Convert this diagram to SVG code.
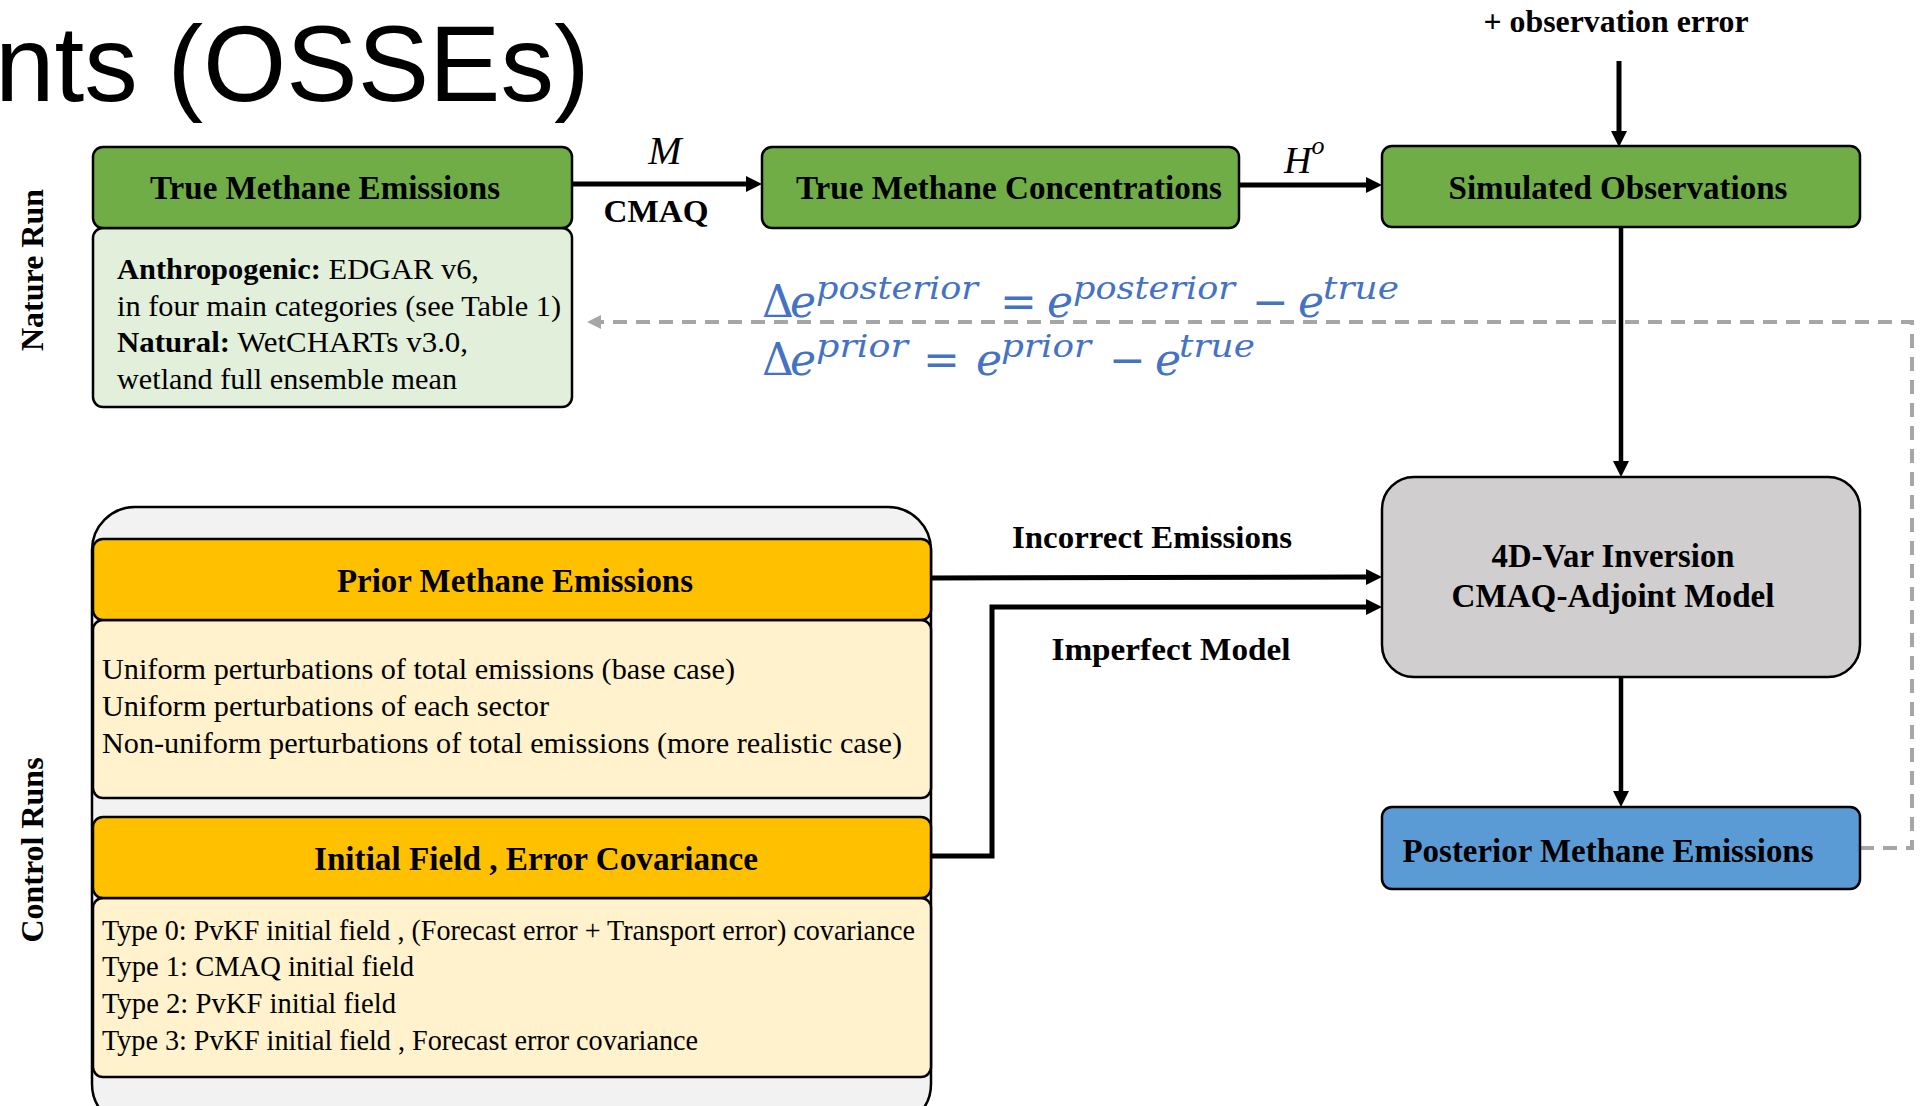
<svg xmlns="http://www.w3.org/2000/svg" width="1926" height="1106" viewBox="0 0 1926 1106">
<defs>
<style>
.box{stroke:#000;stroke-width:2.5}
.hdr{font-family:"Liberation Serif",serif;font-weight:bold;font-size:34px;text-anchor:middle;fill:#000}
.lbl{font-family:"Liberation Serif",serif;font-weight:bold;font-size:32px;fill:#000}
.body{font-family:"Liberation Serif",serif;font-size:30px;fill:#000}
.conn{fill:none;stroke:#000;stroke-width:5}
.conn4{fill:none;stroke:#000;stroke-width:4.5}
.dash{fill:none;stroke:#A6A6A6;stroke-width:4;stroke-dasharray:14 9}
.eq{font-family:"DejaVu Serif",serif;fill:#4472C4}
.it{font-style:italic}
</style>
<marker id="ah" viewBox="0 0 10 10" refX="0" refY="5" markerWidth="16" markerHeight="16" markerUnits="userSpaceOnUse" orient="auto">
<path d="M0,0 L10,5 L0,10 z" fill="#000"/>
</marker>
<marker id="ahg" viewBox="0 0 10 10" refX="0" refY="5" markerWidth="14" markerHeight="14" markerUnits="userSpaceOnUse" orient="auto">
<path d="M0,0 L10,5 L0,10 z" fill="#A6A6A6"/>
</marker>
</defs>
<rect x="0" y="0" width="1926" height="1106" fill="#fff"/>

<text x="-5" y="101" font-family="Liberation Sans, Arial, sans-serif" font-size="107" fill="#000">nts (OSSEs)</text>

<text class="lbl" x="1616" y="32" text-anchor="middle" textLength="265" lengthAdjust="spacingAndGlyphs">+ observation error</text>

<g id="side-labels">
<text class="lbl" transform="translate(43,270) rotate(-90)" text-anchor="middle" font-size="33">Nature Run</text>
<text class="lbl" transform="translate(43,850) rotate(-90)" text-anchor="middle" font-size="33">Control Runs</text>
</g>

<g id="connectors">
<path class="dash" d="M1860,848 H1912 V322 H601" marker-end="url(#ahg)"/>
<line class="conn" x1="572" y1="184" x2="746" y2="184" marker-end="url(#ah)"/>
<line class="conn" x1="1239" y1="185" x2="1366" y2="185" marker-end="url(#ah)"/>
<line class="conn" x1="1619" y1="61" x2="1619" y2="131" marker-end="url(#ah)"/>
<line class="conn4" x1="1621" y1="227" x2="1621" y2="461" marker-end="url(#ah)"/>
<line class="conn4" x1="1621" y1="677" x2="1621" y2="791" marker-end="url(#ah)"/>
<line class="conn" x1="931" y1="578" x2="1366" y2="577" marker-end="url(#ah)"/>
<path class="conn" d="M931,856 H992 V607 H1366" marker-end="url(#ah)"/>
</g>

<g id="edge-labels">
<text x="665" y="164" font-family="Liberation Serif, serif" font-style="italic" font-size="40" text-anchor="middle">M</text>
<text class="lbl" x="656" y="222" text-anchor="middle" textLength="105" lengthAdjust="spacingAndGlyphs">CMAQ</text>
<text x="1284" y="173" font-family="Liberation Serif, serif" font-style="italic" font-size="38">H<tspan font-size="26" dy="-19">o</tspan></text>
<text class="lbl" x="1152" y="548" text-anchor="middle" textLength="280" lengthAdjust="spacingAndGlyphs">Incorrect Emissions</text>
<text class="lbl" x="1171" y="660" text-anchor="middle" textLength="239" lengthAdjust="spacingAndGlyphs">Imperfect Model</text>
</g>

<g id="equations" class="eq">
<text font-size="44">
<tspan x="762" y="317">Δ</tspan><tspan class="it" x="790" y="317">e</tspan>
<tspan class="it" x="816" y="299" font-size="32" textLength="162" lengthAdjust="spacingAndGlyphs">posterior</tspan>
<tspan x="1000" y="317">=</tspan>
<tspan class="it" x="1047" y="317">e</tspan>
<tspan class="it" x="1073" y="299" font-size="32" textLength="162" lengthAdjust="spacingAndGlyphs">posterior</tspan>
<tspan x="1252" y="317">−</tspan>
<tspan class="it" x="1298" y="317">e</tspan>
<tspan class="it" x="1323" y="299" font-size="32" textLength="76" lengthAdjust="spacingAndGlyphs">true</tspan>
</text>
<text font-size="44">
<tspan x="762" y="375">Δ</tspan><tspan class="it" x="790" y="375">e</tspan>
<tspan class="it" x="816" y="357" font-size="32" textLength="92" lengthAdjust="spacingAndGlyphs">prior</tspan>
<tspan x="923" y="375">=</tspan>
<tspan class="it" x="976" y="375">e</tspan>
<tspan class="it" x="1001" y="357" font-size="32" textLength="90" lengthAdjust="spacingAndGlyphs">prior</tspan>
<tspan x="1109" y="375">−</tspan>
<tspan class="it" x="1155" y="375">e</tspan>
<tspan class="it" x="1179" y="357" font-size="32" textLength="76" lengthAdjust="spacingAndGlyphs">true</tspan>
</text>
</g>

<g id="node-true-emissions">
<rect class="box" x="93" y="228" width="479" height="179" rx="10" fill="#E2EFDA"/>
<rect class="box" x="93" y="147" width="479" height="81" rx="10" fill="#70AD47"/>
<text class="hdr" x="325" y="199" textLength="350" lengthAdjust="spacingAndGlyphs">True Methane Emissions</text>
<text class="body" x="117" y="279" textLength="362" lengthAdjust="spacingAndGlyphs"><tspan font-weight="bold">Anthropogenic:</tspan> EDGAR v6,</text>
<text class="body" x="117" y="316" textLength="444" lengthAdjust="spacingAndGlyphs">in four main categories (see Table 1)</text>
<text class="body" x="117" y="352" textLength="351" lengthAdjust="spacingAndGlyphs"><tspan font-weight="bold">Natural:</tspan> WetCHARTs v3.0,</text>
<text class="body" x="117" y="389" textLength="340" lengthAdjust="spacingAndGlyphs">wetland full ensemble mean</text>
</g>

<g id="node-true-concentrations">
<rect class="box" x="762" y="147" width="477" height="81" rx="10" fill="#70AD47"/>
<text class="hdr" x="1009" y="199" textLength="426" lengthAdjust="spacingAndGlyphs">True Methane Concentrations</text>
</g>

<g id="node-simulated-observations">
<rect class="box" x="1382" y="146" width="478" height="81" rx="10" fill="#70AD47"/>
<text class="hdr" x="1618" y="199" textLength="339" lengthAdjust="spacingAndGlyphs">Simulated Observations</text>
</g>

<g id="node-4dvar">
<rect class="box" x="1382" y="477" width="478" height="200" rx="32" fill="#D0CECE"/>
<text class="hdr" x="1613" y="567" textLength="243" lengthAdjust="spacingAndGlyphs">4D-Var Inversion</text>
<text class="hdr" x="1613" y="607" textLength="323" lengthAdjust="spacingAndGlyphs">CMAQ-Adjoint Model</text>
</g>

<g id="node-posterior">
<rect class="box" x="1382" y="807" width="478" height="82" rx="10" fill="#5B9BD5"/>
<text class="hdr" x="1608" y="862" textLength="411" lengthAdjust="spacingAndGlyphs">Posterior Methane Emissions</text>
</g>

<g id="node-control-runs">
<rect class="box" x="92" y="507" width="839" height="620" rx="43" fill="#F2F2F2"/>
</g>

<g id="node-prior">
<rect class="box" x="93" y="620" width="838" height="178" rx="10" fill="#FFF2CC"/>
<rect class="box" x="93" y="539" width="838" height="81" rx="10" fill="#FFC000"/>
<text class="hdr" x="515" y="592" textLength="356" lengthAdjust="spacingAndGlyphs">Prior Methane Emissions</text>
<text class="body" x="102" y="679" textLength="633" lengthAdjust="spacingAndGlyphs">Uniform perturbations of total emissions (base case)</text>
<text class="body" x="102" y="716" textLength="447" lengthAdjust="spacingAndGlyphs">Uniform perturbations of each sector</text>
<text class="body" x="102" y="753" textLength="800" lengthAdjust="spacingAndGlyphs">Non-uniform perturbations of total emissions (more realistic case)</text>
</g>

<g id="node-initial-field">
<rect class="box" x="93" y="898" width="838" height="179" rx="10" fill="#FFF2CC"/>
<rect class="box" x="93" y="817" width="838" height="81" rx="10" fill="#FFC000"/>
<text class="hdr" x="536" y="870" textLength="444" lengthAdjust="spacingAndGlyphs">Initial Field , Error Covariance</text>
<text class="body" x="102" y="940" textLength="813" lengthAdjust="spacingAndGlyphs">Type 0: PvKF initial field , (Forecast error + Transport error) covariance</text>
<text class="body" x="102" y="976" textLength="312" lengthAdjust="spacingAndGlyphs">Type 1: CMAQ initial field</text>
<text class="body" x="102" y="1013" textLength="294" lengthAdjust="spacingAndGlyphs">Type 2: PvKF initial field</text>
<text class="body" x="102" y="1050" textLength="596" lengthAdjust="spacingAndGlyphs">Type 3: PvKF initial field , Forecast error covariance</text>
</g>
</svg>
